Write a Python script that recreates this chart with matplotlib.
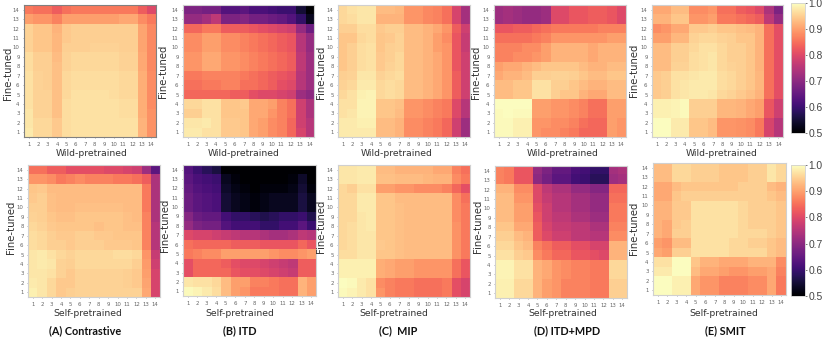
import matplotlib
matplotlib.use('Agg')
import numpy as np
import matplotlib.pyplot as plt

# cell values, rows listed from 14 (top) down to 1
levels = list(range(1, 15))
wild_contrastive = [
    [.86,.85,.85,.83,.85,.86,.86,.86,.86,.86,.86,.86,.83,.80],
    [.90,.89,.89,.87,.90,.90,.90,.90,.90,.90,.91,.91,.88,.86],
    [.955,.94,.94,.92,.945,.95,.95,.95,.95,.95,.95,.95,.905,.875],
    [.955,.94,.94,.925,.945,.95,.95,.95,.95,.95,.95,.95,.905,.875],
    [.955,.94,.94,.925,.95,.95,.95,.955,.955,.955,.95,.95,.905,.875],
    [.965,.95,.95,.93,.955,.96,.96,.96,.96,.96,.955,.955,.91,.875],
    [.965,.95,.95,.935,.955,.96,.96,.96,.96,.96,.955,.955,.91,.875],
    [.97,.955,.95,.935,.96,.965,.965,.965,.965,.965,.96,.96,.915,.88],
    [.97,.955,.95,.935,.96,.965,.965,.965,.965,.965,.96,.96,.915,.88],
    [.97,.955,.955,.935,.96,.97,.97,.97,.97,.965,.96,.96,.915,.88],
    [.97,.955,.955,.935,.965,.97,.97,.97,.97,.97,.965,.965,.915,.88],
    [.975,.955,.955,.935,.965,.97,.97,.97,.97,.97,.965,.965,.915,.885],
    [.975,.96,.96,.945,.965,.97,.97,.97,.97,.97,.97,.97,.92,.885],
    [.98,.96,.96,.945,.965,.97,.97,.97,.97,.97,.97,.97,.92,.885],
]
wild_itd = [
    [.68,.68,.67,.67,.63,.63,.64,.62,.62,.61,.60,.60,.55,.50],
    [.71,.71,.73,.76,.68,.68,.69,.67,.67,.66,.65,.63,.59,.53],
    [.84,.84,.86,.86,.83,.83,.83,.82,.81,.80,.79,.78,.71,.66],
    [.88,.88,.90,.90,.88,.88,.87,.86,.85,.84,.83,.82,.75,.71],
    [.88,.88,.90,.90,.88,.88,.87,.86,.85,.84,.83,.82,.75,.71],
    [.89,.89,.91,.91,.89,.89,.88,.87,.86,.85,.84,.83,.76,.72],
    [.89,.89,.91,.91,.89,.89,.88,.87,.86,.85,.84,.83,.76,.72],
    [.86,.86,.87,.87,.87,.87,.86,.85,.84,.83,.82,.81,.75,.72],
    [.85,.85,.86,.86,.87,.87,.85,.85,.84,.83,.81,.80,.75,.72],
    [.84,.84,.84,.84,.84,.83,.83,.81,.80,.80,.79,.78,.72,.70],
    [.96,.96,.97,.97,.94,.94,.945,.91,.91,.90,.87,.85,.78,.74],
    [.95,.95,.97,.97,.94,.94,.94,.91,.91,.89,.87,.85,.78,.74],
    [.975,.975,.98,.97,.945,.945,.94,.91,.90,.88,.87,.84,.78,.75],
    [.98,.98,.97,.97,.945,.945,.94,.91,.90,.88,.87,.84,.79,.75],
]
wild_mip = [
    [.96,.97,.975,.975,.93,.93,.925,.89,.89,.875,.87,.85,.79,.73],
    [.96,.965,.975,.975,.92,.92,.92,.89,.89,.875,.87,.85,.79,.73],
    [.95,.95,.965,.965,.945,.95,.95,.93,.93,.92,.91,.89,.83,.78],
    [.94,.94,.96,.965,.94,.945,.955,.93,.93,.92,.90,.88,.82,.77],
    [.94,.95,.965,.97,.94,.95,.955,.93,.93,.92,.90,.89,.82,.77],
    [.94,.95,.965,.97,.945,.95,.96,.93,.93,.92,.91,.89,.82,.78],
    [.94,.95,.965,.97,.945,.955,.96,.93,.93,.92,.91,.89,.82,.78],
    [.95,.955,.975,.975,.955,.96,.965,.93,.93,.92,.91,.89,.83,.78],
    [.955,.96,.98,.98,.96,.965,.96,.93,.93,.92,.91,.89,.83,.78],
    [.96,.97,.985,.99,.96,.965,.96,.93,.93,.92,.91,.89,.83,.78],
    [.97,.97,.99,.99,.94,.94,.935,.89,.89,.88,.87,.86,.80,.75],
    [.97,.975,.99,.99,.94,.94,.93,.89,.89,.88,.87,.86,.80,.75],
    [.98,.98,.985,.985,.93,.93,.92,.88,.88,.87,.86,.84,.78,.72],
    [.98,.98,.98,.98,.93,.93,.92,.88,.88,.87,.86,.84,.78,.72],
]
wild_itd_mpd = [
    [.72,.73,.72,.71,.71,.72,.80,.80,.82,.82,.83,.83,.82,.80],
    [.72,.73,.72,.71,.71,.72,.80,.80,.82,.82,.83,.83,.82,.80],
    [.82,.82,.83,.83,.84,.85,.86,.86,.86,.86,.86,.87,.87,.87],
    [.85,.85,.85,.85,.86,.87,.89,.89,.89,.89,.89,.89,.90,.90],
    [.87,.87,.87,.88,.88,.90,.92,.92,.92,.92,.91,.92,.92,.92],
    [.87,.87,.88,.88,.89,.90,.92,.92,.92,.92,.91,.92,.92,.92],
    [.90,.91,.91,.92,.93,.94,.94,.94,.94,.93,.92,.92,.93,.93],
    [.91,.92,.92,.93,.95,.95,.955,.955,.95,.94,.93,.93,.94,.94],
    [.93,.93,.94,.94,.97,.97,.95,.95,.94,.93,.92,.92,.93,.93],
    [.93,.93,.94,.94,.97,.97,.95,.94,.94,.92,.91,.91,.93,.93],
    [1.0,1.0,1.0,1.0,.90,.90,.89,.89,.88,.87,.85,.85,.90,.90],
    [.995,1.0,.995,.995,.90,.90,.89,.89,.88,.87,.85,.85,.90,.90],
    [.995,.995,.985,.985,.89,.89,.88,.88,.87,.85,.84,.84,.90,.89],
    [.995,.995,.985,.985,.89,.88,.88,.87,.86,.84,.84,.84,.90,.89],
]
wild_smit = [
    [.91,.91,.93,.93,.88,.88,.89,.85,.85,.83,.82,.80,.74,.68],
    [.92,.92,.94,.94,.89,.89,.90,.86,.86,.85,.84,.83,.76,.71],
    [.88,.89,.91,.91,.945,.945,.95,.94,.94,.935,.93,.92,.85,.81],
    [.90,.90,.925,.925,.955,.96,.96,.955,.95,.94,.94,.92,.85,.81],
    [.93,.93,.95,.95,.96,.97,.97,.96,.95,.95,.94,.92,.85,.81],
    [.93,.93,.95,.95,.965,.97,.975,.96,.95,.95,.94,.92,.85,.81],
    [.93,.93,.955,.955,.965,.97,.975,.96,.955,.95,.94,.92,.85,.81],
    [.945,.95,.97,.97,.975,.98,.98,.965,.96,.95,.94,.925,.85,.81],
    [.945,.95,.97,.975,.98,.98,.98,.965,.96,.95,.94,.925,.85,.81],
    [.945,.95,.97,.975,.98,.98,.975,.96,.955,.945,.935,.92,.85,.81],
    [.985,.985,.99,.995,.95,.95,.95,.925,.925,.92,.91,.90,.82,.78],
    [.985,.985,.99,.995,.95,.95,.95,.925,.925,.92,.91,.90,.82,.78],
    [1.0,1.0,.98,.98,.94,.94,.93,.89,.89,.885,.88,.86,.79,.75],
    [1.0,1.0,.98,.98,.94,.94,.93,.89,.89,.885,.88,.86,.79,.75],
]
self_contrastive = [
    [.85,.85,.83,.83,.81,.81,.81,.81,.80,.80,.79,.78,.72,.64],
    [.89,.89,.88,.86,.87,.88,.87,.87,.87,.86,.86,.85,.83,.74],
    [.94,.945,.93,.93,.93,.93,.93,.93,.93,.93,.93,.93,.86,.74],
    [.945,.95,.935,.93,.93,.93,.93,.93,.93,.93,.93,.93,.86,.74],
    [.95,.95,.935,.93,.93,.935,.935,.935,.935,.935,.93,.93,.86,.74],
    [.955,.95,.94,.935,.935,.94,.94,.94,.94,.94,.935,.93,.87,.74],
    [.96,.955,.945,.94,.94,.94,.94,.935,.94,.94,.935,.935,.87,.75],
    [.965,.96,.95,.945,.945,.95,.95,.945,.945,.94,.94,.94,.87,.75],
    [.965,.96,.95,.95,.945,.95,.95,.95,.945,.945,.945,.94,.87,.75],
    [.975,.98,.97,.96,.955,.96,.96,.96,.96,.965,.965,.96,.89,.77],
    [.975,.98,.975,.955,.95,.96,.96,.96,.96,.96,.96,.95,.895,.78],
    [.975,.975,.97,.955,.945,.955,.955,.955,.955,.955,.95,.945,.90,.79],
    [.98,.975,.96,.945,.945,.955,.955,.955,.955,.955,.95,.945,.905,.79],
    [.985,.975,.96,.945,.95,.955,.955,.955,.955,.955,.955,.955,.91,.79],
]
self_itd = [
    [.63,.60,.58,.56,.50,.50,.50,.50,.50,.50,.50,.50,.50,.50],
    [.64,.62,.61,.60,.53,.51,.50,.50,.50,.50,.50,.51,.54,.50],
    [.65,.63,.62,.61,.54,.52,.51,.50,.51,.51,.51,.52,.55,.51],
    [.66,.64,.63,.62,.55,.53,.52,.51,.52,.53,.53,.53,.56,.53],
    [.66,.64,.63,.62,.55,.53,.52,.51,.52,.53,.53,.53,.56,.53],
    [.69,.66,.65,.65,.61,.59,.59,.58,.57,.58,.59,.59,.60,.57],
    [.71,.68,.67,.67,.63,.61,.61,.61,.59,.59,.61,.61,.64,.60],
    [.80,.79,.79,.78,.77,.76,.75,.75,.74,.73,.73,.74,.76,.75],
    [.85,.84,.84,.84,.84,.83,.83,.83,.82,.82,.82,.82,.84,.82],
    [.86,.87,.88,.88,.90,.90,.90,.90,.90,.89,.88,.88,.89,.90],
    [.81,.84,.84,.84,.83,.81,.80,.80,.79,.78,.77,.76,.83,.83],
    [.81,.84,.84,.84,.84,.82,.81,.81,.80,.79,.78,.77,.83,.83],
    [.975,.97,.97,.96,.93,.90,.90,.87,.87,.86,.85,.85,.92,.90],
    [.995,.99,.98,.965,.93,.90,.89,.86,.86,.86,.85,.85,.92,.90],
]
self_mip = [
    [.975,.975,.98,.98,.93,.93,.92,.92,.92,.92,.91,.91,.87,.85],
    [.975,.975,.98,.98,.935,.935,.93,.93,.93,.925,.92,.92,.88,.86],
    [.96,.95,.97,.97,.90,.90,.89,.89,.88,.88,.88,.87,.84,.81],
    [.96,.96,.98,.98,.94,.94,.93,.93,.93,.93,.93,.93,.88,.85],
    [.96,.96,.98,.98,.94,.94,.935,.93,.93,.93,.93,.93,.88,.86],
    [.96,.96,.975,.98,.94,.94,.935,.93,.93,.93,.93,.93,.88,.86],
    [.96,.965,.975,.98,.94,.94,.935,.93,.93,.93,.93,.93,.885,.86],
    [.96,.965,.975,.975,.94,.94,.935,.93,.93,.93,.93,.93,.885,.86],
    [.96,.965,.975,.975,.945,.94,.935,.93,.93,.93,.93,.93,.885,.86],
    [.965,.965,.975,.975,.94,.94,.935,.93,.93,.93,.93,.93,.885,.86],
    [.985,.985,.985,.985,.915,.91,.90,.90,.89,.89,.89,.89,.85,.82],
    [.985,.985,.985,.985,.915,.91,.90,.90,.89,.89,.89,.89,.85,.82],
    [1.0,.995,.98,.97,.88,.87,.86,.86,.85,.85,.85,.86,.81,.79],
    [.995,.99,.98,.97,.89,.87,.86,.86,.85,.85,.85,.86,.81,.79],
]
self_itd_mpd = [
    [.87,.86,.82,.82,.71,.68,.65,.65,.62,.61,.59,.59,.73,.74],
    [.87,.86,.82,.82,.70,.67,.64,.64,.61,.60,.58,.58,.72,.73],
    [.92,.92,.88,.88,.80,.76,.74,.74,.71,.71,.69,.69,.84,.84],
    [.93,.93,.89,.89,.80,.77,.75,.75,.73,.73,.71,.71,.85,.85],
    [.93,.93,.90,.90,.81,.78,.75,.75,.73,.73,.71,.71,.86,.86],
    [.93,.93,.90,.90,.82,.78,.76,.76,.74,.74,.72,.72,.86,.86],
    [.94,.94,.91,.91,.83,.79,.77,.77,.76,.76,.74,.74,.87,.87],
    [.95,.95,.93,.92,.83,.80,.78,.78,.76,.76,.75,.75,.88,.88],
    [.96,.96,.94,.93,.87,.85,.83,.83,.81,.81,.79,.79,.92,.92],
    [.97,.97,.95,.945,.88,.86,.84,.84,.82,.82,.81,.80,.92,.92],
    [.99,.99,.97,.97,.92,.91,.89,.88,.87,.87,.86,.86,.96,.96],
    [.99,.99,.97,.97,.92,.91,.89,.88,.87,.87,.86,.86,.96,.96],
    [.985,.985,.96,.96,.92,.90,.89,.87,.87,.87,.86,.86,.95,.95],
    [.985,.985,.96,.96,.92,.90,.89,.87,.87,.87,.86,.86,.95,.95],
]
self_smit = [
    [.93,.93,.96,.96,.95,.95,.95,.94,.94,.94,.95,.95,.975,.96],
    [.93,.93,.96,.96,.95,.95,.95,.94,.94,.94,.95,.95,.975,.96],
    [.91,.91,.93,.94,.94,.94,.94,.94,.94,.95,.95,.95,.93,.92],
    [.91,.91,.94,.95,.95,.95,.95,.95,.95,.95,.95,.95,.94,.93],
    [.92,.92,.945,.945,.97,.97,.97,.97,.97,.96,.95,.95,.95,.94],
    [.92,.92,.945,.945,.97,.97,.97,.97,.97,.96,.95,.95,.95,.94],
    [.92,.91,.945,.95,.97,.97,.97,.97,.97,.96,.95,.95,.95,.94],
    [.92,.91,.95,.95,.97,.97,.97,.97,.97,.96,.96,.96,.95,.94],
    [.90,.89,.93,.93,.97,.97,.97,.97,.96,.96,.95,.95,.94,.93],
    [.91,.90,.95,.95,.97,.97,.97,.97,.96,.96,.96,.96,.94,.93],
    [.97,.97,1.0,1.0,.94,.92,.92,.91,.91,.91,.92,.92,.92,.88],
    [.98,.98,1.0,1.0,.93,.91,.91,.90,.89,.89,.90,.90,.91,.87],
    [1.0,1.0,.985,.985,.91,.89,.89,.87,.87,.87,.88,.88,.91,.86],
    [1.0,1.0,.985,.985,.91,.89,.89,.87,.87,.87,.88,.88,.91,.86],
]
captions = ['(A) Contrastive', '(B) ITD', '(C)  MIP', '(D) ITD+MPD', '(E) SMIT']

W, H = 830, 350
fig = plt.figure(figsize=(W / 100, H / 100), dpi=100)


def add_px_axes(x0, y0, x1, y1):
    return fig.add_axes([x0 / W, 1 - y1 / H, (x1 - x0) / W, (y1 - y0) / H])


def put_text(x, y, s, **kw):
    fig.text(x / W, 1 - y / H, s, ha='center', va='center', **kw)


def heatmap(values, box, xlabel, xlabel_pos, ylabel_pos, frame='#d0d0d0'):
    ax = add_px_axes(*box)
    im = ax.imshow(np.array(values), cmap='magma', vmin=0.5, vmax=1.0, aspect='auto', interpolation='nearest')
    ax.set_xticks(range(14))
    ax.set_xticklabels(levels)
    ax.set_yticks(range(14))
    ax.set_yticklabels(levels[::-1])
    ax.tick_params(labelsize=3.9, length=0.8, width=0.4, colors='#666666')
    ax.tick_params(axis='x', pad=3)
    ax.tick_params(axis='y', pad=2.4)
    for spine in ax.spines.values():
        spine.set_color(frame)
        spine.set_linewidth(0.8)
    put_text(xlabel_pos[0], xlabel_pos[1], xlabel, fontsize=6.7, color='#333333')
    put_text(ylabel_pos[0], ylabel_pos[1], 'Fine-tuned', fontsize=7.3, color='#333333', rotation=90)
    return im


def colorbar(im, box):
    cax = add_px_axes(*box)
    cb = fig.colorbar(im, cax=cax)
    cb.set_ticks([0.5, 0.6, 0.7, 0.8, 0.9, 1.0])
    cb.ax.tick_params(labelsize=7.4, length=1.5, width=0.5, pad=1, colors='#444444')
    for label in cb.ax.get_yticklabels():
        label.set_family('Liberation Sans')
    cb.outline.set_edgecolor('#d0d0d0')
    cb.outline.set_linewidth(0.6)


heatmap(wild_contrastive, (24, 5, 156, 137), 'Wild-pretrained', (92, 154), (8, 73), frame='#808080')
heatmap(wild_itd, (183, 5, 314, 137), 'Wild-pretrained', (244, 154), (163, 71))
heatmap(wild_mip, (338, 5, 470, 137), 'Wild-pretrained', (397, 154), (321, 72))
heatmap(wild_itd_mpd, (494, 5, 626, 137), 'Wild-pretrained', (563, 154), (476, 72))
im_top = heatmap(wild_smit, (652, 5, 783, 137), 'Wild-pretrained', (722, 154), (634, 70))
colorbar(im_top, (791, 3, 805, 133))

heatmap(self_contrastive, (28, 165, 160, 297), 'Self-pretrained', (88, 314), (11, 227))
heatmap(self_itd, (183, 165, 316, 296), 'Self-pretrained', (240, 314), (165, 225))
heatmap(self_mip, (338, 165, 470, 297), 'Self-pretrained', (394, 314), (321, 226))
heatmap(self_itd_mpd, (495, 166, 627, 298), 'Self-pretrained', (563, 314), (478, 226))
im_bottom = heatmap(self_smit, (653, 163, 786, 295), 'Self-pretrained', (724, 314), (634, 228))
colorbar(im_bottom, (791, 165, 805, 296))

for x, caption in zip([85, 240, 398, 567, 725], captions):
    put_text(x, 331, caption, fontsize=7.8, fontweight='bold', family='Lato', color='#111111')

fig.savefig('out.png', dpi=100)
